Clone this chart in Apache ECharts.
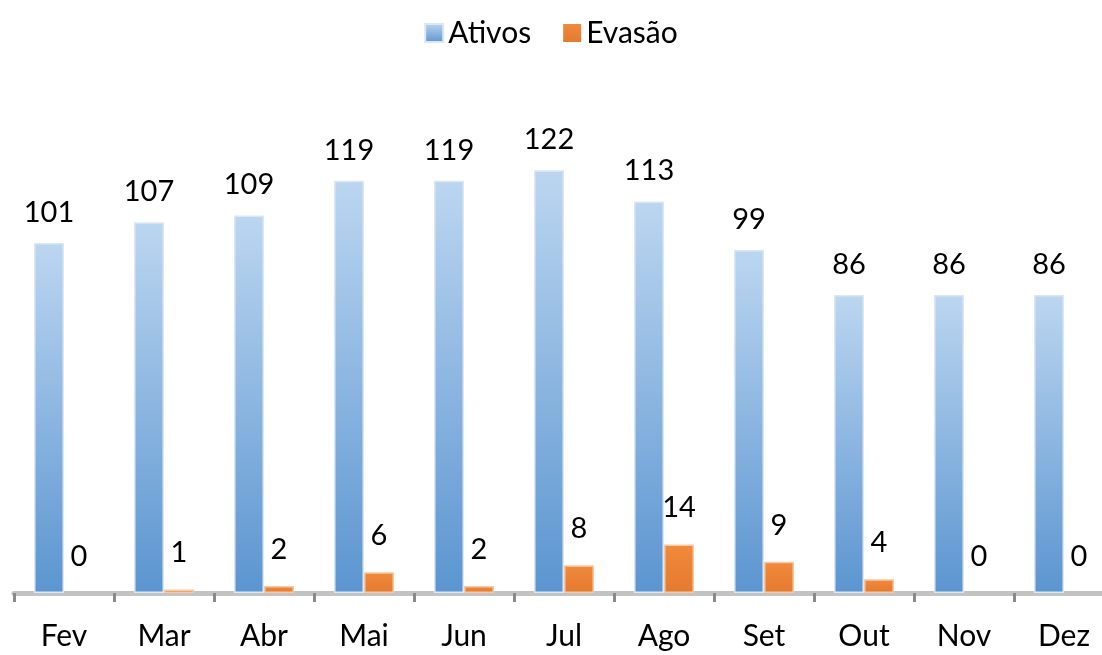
<!DOCTYPE html>
<html><head><meta charset="utf-8">
<script src="https://cdn.jsdelivr.net/npm/echarts@6/dist/echarts.min.js"></script>
<style>html,body{margin:0;padding:0;background:#fff}#c{width:1102px;height:655px}</style>
</head><body><div id="c"></div>
<script>
const categories = ['Fev','Mar','Abr','Mai','Jun','Jul','Ago','Set','Out','Nov','Dez'];
const ativos = [101,107,109,119,119,122,113,99,86,86,86];
const evasao = [0,1,2,6,2,8,14,9,4,0,0];
const seriesNames = ['Ativos','Evasão'];

const font = 'Lato, "Open Sans", sans-serif';
const chart = echarts.init(document.getElementById('c'));
const blue = new echarts.graphic.LinearGradient(0,0,0,1,[{offset:0,color:'#bcd6f0'},{offset:1,color:'#5b95d0'}]);
const orange = new echarts.graphic.LinearGradient(0,0,0,1,[{offset:0,color:'#f08a3c'},{offset:1,color:'#e47a2e'}]);
chart.setOption({
  animation:false,
  legend:{top:13,left:'center',itemWidth:18,itemHeight:18,itemGap:32,
    textStyle:{fontFamily:font,fontSize:30,color:'#000'},
    data:[{name:seriesNames[0],icon:'rect'},{name:seriesNames[1],icon:'rect'}]},
  grid:{left:14,right:-12,top:108,bottom:62,outerBoundsMode:'none',containLabel:false},
  xAxis:{type:'category',data:categories,
    axisLine:{lineStyle:{color:'#c3c3c3',width:5}},
    axisTick:{show:true,length:9,lineStyle:{color:'#8a8a8a',width:3}},
    axisLabel:{fontFamily:font,fontSize:30,color:'#000',margin:28}},
  yAxis:{type:'value',min:0,max:140,show:false,splitLine:{show:false}},
  series:[
    {name:seriesNames[0],type:'bar',data:ativos,barWidth:30,barGap:'0%',
      itemStyle:{color:blue,borderColor:'#dbe7f3',borderWidth:1.5},
      label:{show:true,position:'top',distance:16,fontFamily:font,fontSize:29,color:'#000'}},
    {name:seriesNames[1],type:'bar',
      data:evasao.map(v=>({value:v,itemStyle:{borderWidth:v===0?0:1.5}})),barWidth:30,
      itemStyle:{color:orange,borderColor:'#f7c9a6'},
      label:{show:true,position:'top',distance:22,fontFamily:font,fontSize:29,color:'#000'}}
  ]
});
</script></body></html>
